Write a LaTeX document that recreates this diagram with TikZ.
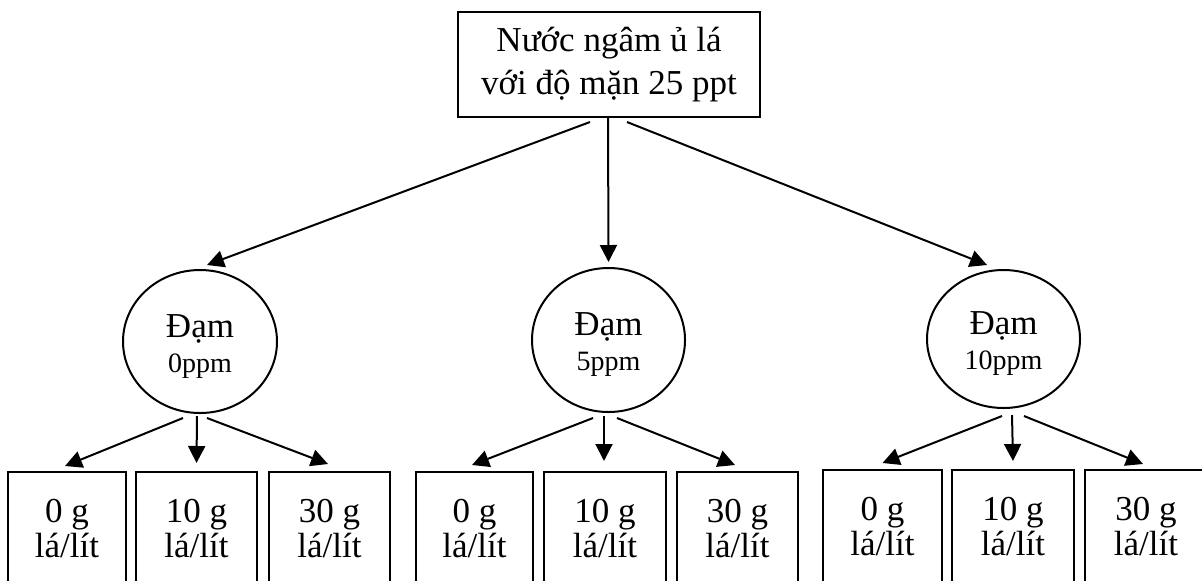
\documentclass[tikz,border=0pt]{standalone}
\usepackage{fontspec}
\setmainfont{Liberation Serif}
\usetikzlibrary{arrows.meta,shapes.geometric}

\tikzset{
  arr/.style={line width=1pt,-{Triangle[length=8.5pt,width=8.5pt]}},
  topbox/.style={draw,line width=1pt,rectangle,minimum width=151pt,minimum height=52.5pt,
    align=center,inner sep=0pt,font={\fontsize{17.5pt}{21.5pt}\selectfont}},
  levelnode/.style={draw,line width=1pt,ellipse,minimum width=77pt,minimum height=72pt,
    align=center,inner sep=0pt,font={\fontsize{17.5pt}{17.5pt}\selectfont}},
  leafbox/.style={draw,line width=1pt,rectangle,minimum height=57pt,
    align=center,inner sep=0pt,font={\fontsize{17.5pt}{17.5pt}\selectfont}},
}
\newcommand{\levtext}[1]{\rule{0pt}{16pt}Đạm\\{\fontsize{14pt}{17.5pt}\selectfont #1}}

\begin{document}
\begin{tikzpicture}[x=0.5pt,y=-0.5pt]
\useasboundingbox (0,0) rectangle (1202,580);
\clip (0,0) rectangle (1202,580);

% root
\node[topbox] (top) at (609,64.5) {Nước ngâm ủ lá\\với độ mặn 25 ppt};

% nitrogen levels
\node[levelnode,minimum width=77pt,minimum height=71.5pt] (c1) at (200,341.5) {\levtext{0ppm}};
\node[levelnode,minimum width=76.5pt,minimum height=72pt] (c2) at (608.5,340) {\levtext{5ppm}};
\node[levelnode,minimum width=76.5pt,minimum height=69pt] (c3) at (1003.5,339) {\levtext{10ppm}};

% leaf doses
\node[leafbox,minimum width=59pt]   (b11) at (67,529)    {0 g\\lá/lít};
\node[leafbox,minimum width=60.5pt] (b12) at (196.5,529) {10 g\\lá/lít};
\node[leafbox,minimum width=60.5pt] (b13) at (329.5,529) {30 g\\lá/lít};

\node[leafbox,minimum width=58.5pt] (b21) at (474.5,529) {0 g\\lá/lít};
\node[leafbox,minimum width=61pt]   (b22) at (605,529)   {10 g\\lá/lít};
\node[leafbox,minimum width=60.5pt] (b23) at (737.5,529) {30 g\\lá/lít};

\node[leafbox,minimum width=59.5pt] (b31) at (882.5,527) {0 g\\lá/lít};
\node[leafbox,minimum width=61pt]   (b32) at (1013,527)  {10 g\\lá/lít};
\node[leafbox,minimum width=61pt]   (b33) at (1146,527)  {30 g\\lá/lít};

% root to levels
\draw[arr] ([xshift=-9.5pt,yshift=-2pt]top.south) -- ([xshift=3.5pt,yshift=2pt]c1.north);
\draw[arr] ([xshift=-0.5pt]top.south) -- ([yshift=2.5pt]c2.north);
\draw[arr] ([xshift=9pt,yshift=-2pt]top.south) -- ([xshift=-8.25pt,yshift=2pt]c3.north);

% levels to doses
\coordinate (s1) at (197,416);
\coordinate (s2) at (604,416);
\coordinate (s3) at (1012,415);

\draw[arr] ([xshift=-7pt,yshift=-1pt]s1) -- ([xshift=-1pt,yshift=2.5pt]b11.north);
\draw[arr] (s1) -- ([yshift=4pt]b12.north);
\draw[arr] ([xshift=5pt,yshift=-1pt]s1) -- ([xshift=-0.75pt,yshift=3.5pt]b13.north);

\draw[arr] ([xshift=-5.5pt,yshift=-1pt]s2) -- ([xshift=-1.25pt,yshift=3pt]b21.north);
\draw[arr] (s2) -- ([xshift=-0.5pt,yshift=5pt]b22.north);
\draw[arr] ([xshift=6.5pt,yshift=-1pt]s2) -- ([xshift=-1.25pt,yshift=3pt]b23.north);

\draw[arr] ([xshift=-5pt,yshift=-0.5pt]s3) -- ([yshift=3pt]b31.north);
\draw[arr] (s3) -- ([yshift=4pt]b32.north);
\draw[arr] ([xshift=6pt,yshift=-0.5pt]s3) -- ([xshift=-1.5pt,yshift=2.5pt]b33.north);
\end{tikzpicture}
\end{document}
